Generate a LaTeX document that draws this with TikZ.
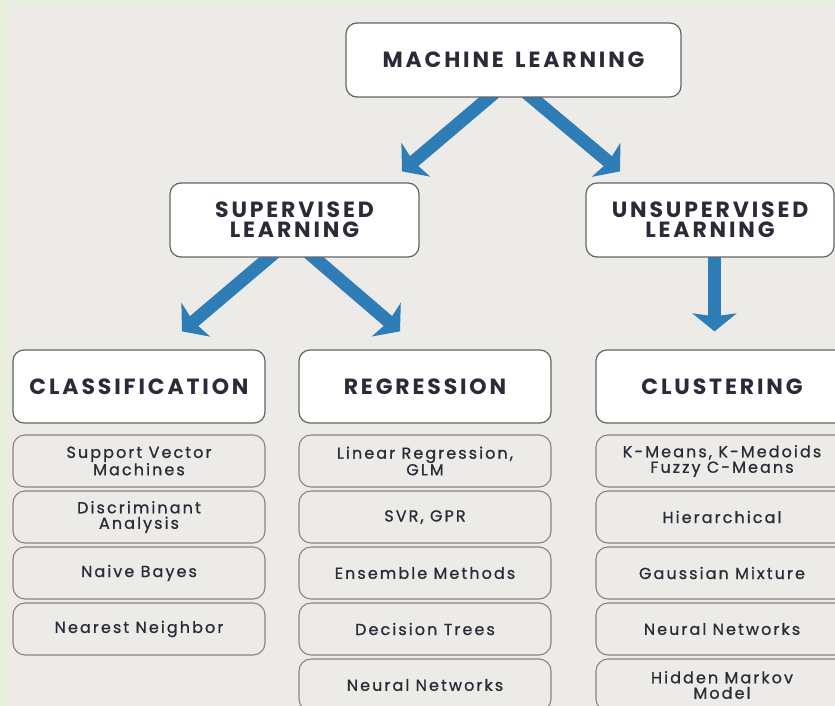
\documentclass[tikz,border=0pt]{standalone}
\usepackage{fontspec}
\setmainfont{Poppins}
\newfontfamily\headfont{Poppins}[LetterSpace=13, WordSpace=1.5]
\newfontfamily\itemfont{Poppins}[LetterSpace=13, FakeBold=0.8]
\usetikzlibrary{arrows.meta}
\usetikzlibrary{backgrounds}
\definecolor{bggreen}{HTML}{E8F0DD}
\definecolor{bggray}{HTML}{EDEBE7}
\definecolor{inkdark}{HTML}{2A2A38}
\definecolor{headline}{HTML}{646464}
\definecolor{itemline}{HTML}{8C8380}
\definecolor{arrowblue}{HTML}{2F7DB6}
\tikzset{head/.style={draw=headline, fill=white, rounded corners=11pt, line width=1.2pt,
    minimum width=252pt, minimum height=73pt, inner sep=0pt, align=center, text=inkdark,
    font=\headfont\bfseries\fontsize{22}{20}\selectfont}}
\tikzset{item/.style={draw=itemline, rounded corners=12pt, line width=1.1pt,
    minimum width=252pt, minimum height=52pt, inner sep=0pt, align=center, text=inkdark,
    font=\itemfont\fontsize{16}{15.5}\selectfont}}
\tikzset{branch/.style={draw=arrowblue, line width=13pt,
    -{Stealth[length=18pt, width=44pt, inset=3pt]}}}

\begin{document}
\begin{tikzpicture}[x=1pt, y=-1pt]
    \useasboundingbox (0, 0) rectangle (835, 706);

    % top of the tree
    \node[head, minimum width=335pt, minimum height=74pt] (ml) at (513.5, 60) {MACHINE LEARNING};
    \node[head, minimum width=249pt, minimum height=74pt] (sup) at (294.5, 220) {SUPERVISED\\LEARNING};
    \node[head, minimum width=248pt, minimum height=74pt] (uns) at (710, 220) {UNSUPERVISED\\LEARNING};

    % task boxes
    \node[head] (cls) at (139, 386.5) {CLASSIFICATION};
    \node[head] (reg) at (425, 386.5) {REGRESSION};
    \node[head] (clu) at (722, 386.5) {CLUSTERING};

    % methods
    \foreach \txt [count=\i] in {{Support Vector\\Machines}, {Discriminant\\Analysis},
            {Naive Bayes}, {Nearest Neighbor}}
        \node[item] (cls\i) at (139, 405 + 56*\i) {\txt};
    \foreach \txt [count=\i] in {{Linear Regression,\\GLM}, {SVR, GPR},
            {Ensemble Methods}, {Decision Trees}, {Neural Networks}}
        \node[item] (reg\i) at (425, 405 + 56*\i) {\txt};
    \foreach \txt [count=\i] in {{K-Means, K-Medoids\\Fuzzy C-Means}, {Hierarchical},
            {Gaussian Mixture}, {Neural Networks}, {Hidden Markov\\Model}}
        \node[item] (clu\i) at (722, 405 + 56*\i) {\txt};

    \begin{scope}[on background layer]
        \fill[bggreen] (0, 0) rectangle (835, 706);
        \fill[bggray] (9, 5) rectangle (835, 706);

        \draw[branch] ([xshift=-18.7pt, yshift=5pt]ml.south) -- ([xshift=107.5pt, yshift=11pt]sup.north);
        \draw[branch] ([xshift=12.6pt, yshift=5pt]ml.south) -- ([xshift=-90pt, yshift=11pt]uns.north);
        \draw[branch] ([xshift=-19.7pt, yshift=5pt]sup.south) -- ([xshift=43pt, yshift=18pt]cls.north);
        \draw[branch] ([xshift=13.8pt, yshift=5pt]sup.south) -- ([xshift=-25pt, yshift=18pt]reg.north);
        \draw[branch] ([xshift=4.5pt, yshift=5pt]uns.south) -- ([xshift=-7.5pt, yshift=18pt]clu.north);
    \end{scope}
\end{tikzpicture}
\end{document}
